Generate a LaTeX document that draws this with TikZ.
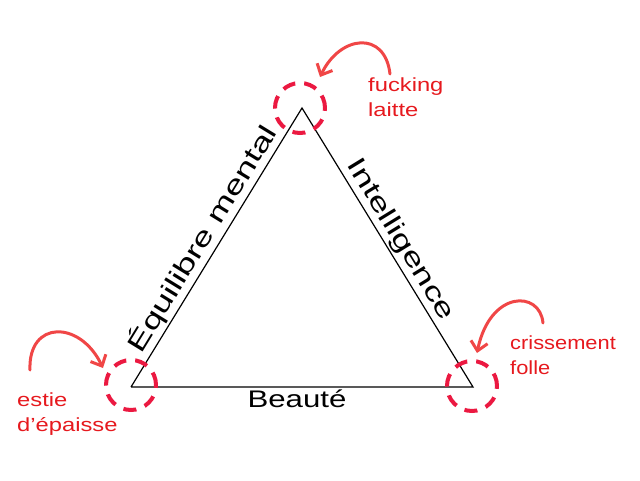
\documentclass[tikz,border=0pt]{standalone}
\usepackage{fontspec}
\setmainfont{Liberation Sans}
\usetikzlibrary{arrows.meta}
\definecolor{ringred}{RGB}{235,25,65}
\definecolor{arrred}{RGB}{240,70,70}
\definecolor{txtred}{RGB}{230,25,30}
\tikzset{
  side/.style={draw=black, line width=1.2pt, line join=miter},
  ring/.style={draw=ringred, line width=4pt, dash pattern=on 13pt off 9pt},
  hint/.style={draw=arrred, line width=3pt, line cap=round, -{Straight Barb[length=9pt,width=17pt,line width=3pt]}},
  note/.style={text=txtred, align=left, font=\fontsize{19}{25}\selectfont, anchor=north west, inner sep=0pt},
  edge label/.style={font=\fontsize{26}{30}\selectfont, inner sep=2pt}
}
\begin{document}
\begin{tikzpicture}[x=1pt,y=1pt]
\useasboundingbox (0,0) rectangle (640,480);
\coordinate (A) at (302,372);
\coordinate (B) at (131,93);
\coordinate (C) at (473,93);
\draw[side] (B) -- node[edge label, sloped, anchor=south] {\scalebox{1.4}[1]{Équilibre mental}} (A)
            -- node[edge label, sloped, anchor=south] {\scalebox{1.4}[1]{Intelligence}} (C)
            -- node[edge label, anchor=north, font=\fontsize{24}{28}\selectfont, xshift=-5pt] {\scalebox{1.3}[1]{Beauté}} (B);
\node[ring, circle, minimum size=50pt, inner sep=0pt] (rt) at (300,372) {};
\node[ring, circle, minimum size=50pt, inner sep=0pt] (rl) at (131,95) {};
\node[ring, circle, minimum size=50pt, inner sep=0pt] (rr) at (472,94) {};
\node[note] (nt) at (368,402) {\scalebox{1.25}[1]{fucking}\\\scalebox{1.25}[1]{laitte}};
\node[note] (nl) at (17,87) {\scalebox{1.25}[1]{estie}\\\scalebox{1.25}[1]{d’épaisse}};
\node[note] (nr) at (510,144) {\scalebox{1.15}[1]{crissement}\\\scalebox{1.15}[1]{folle}};
\coordinate (st) at (390,406);
\coordinate (et) at (320,403);
\coordinate (sl) at (30,110);
\coordinate (el) at (103,112);
\coordinate (sr) at (543,157);
\coordinate (er) at (477,127);
\draw[hint] (st) .. controls (385,450) and (340,445) .. (et);
\draw[hint] (sl) .. controls (28,160) and (80,160) .. (el);
\draw[hint] (sr) .. controls (540,190) and (490,190) .. (er);
\end{tikzpicture}
\end{document}
